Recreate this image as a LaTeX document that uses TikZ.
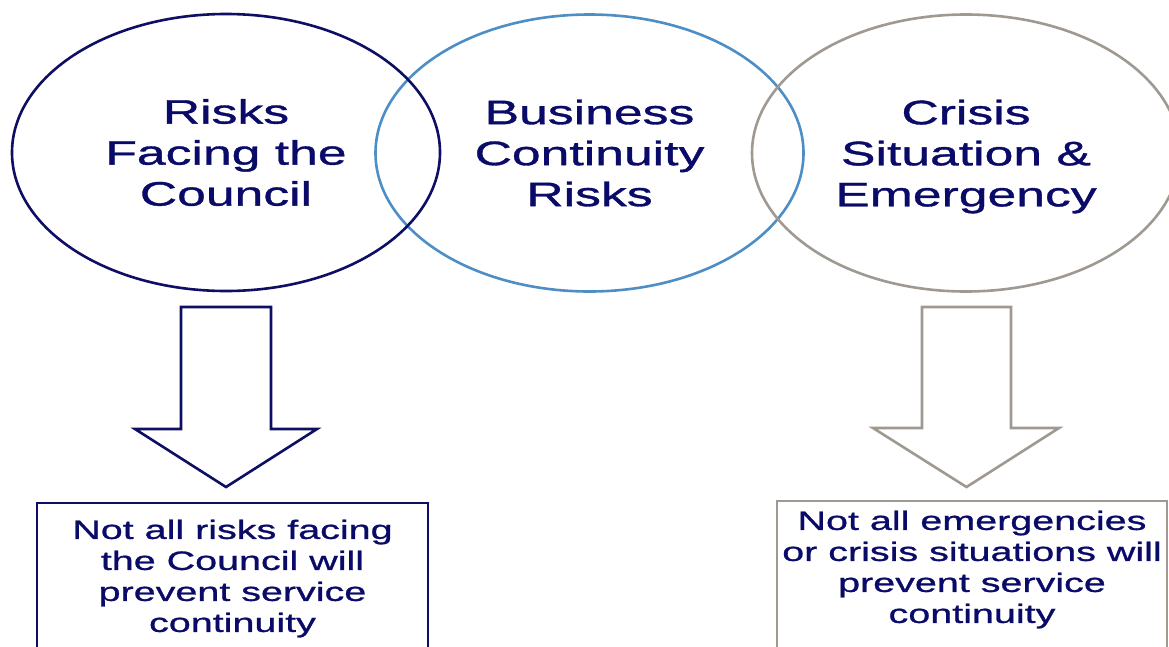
\documentclass[tikz,border=0pt]{standalone}
\usepackage{fontspec}
\setmainfont{Liberation Sans}
\newfontfamily\ellfont[FakeStretch=1.52,FakeBold=1]{Liberation Sans}
\newfontfamily\boxfont[FakeStretch=1.49,FakeBold=1]{Liberation Sans}
\usetikzlibrary{shapes.geometric}
\definecolor{navytxt}{RGB}{10,10,105}
\definecolor{navyline}{RGB}{14,14,100}
\definecolor{steel}{RGB}{78,142,198}
\definecolor{warmgray}{RGB}{160,153,146}
\tikzset{
  circ/.style={ellipse, draw, line width=2.6pt, minimum width=428pt, minimum height=277pt, inner sep=0pt,
    text=navytxt, align=center, font=\ellfont\fontsize{34}{41}\selectfont},
  blockarrow/.style={line width=2.6pt, fill=white, line join=miter},
  boxframe/.style={draw, line width=2.6pt, fill=white},
  boxtext/.style={text=navytxt, align=center, inner sep=0pt, anchor=north, font=\boxfont\fontsize{26.5}{31}\selectfont}
}
\begin{document}
\begin{tikzpicture}[x=1pt,y=-1pt]
\clip (0,0) rectangle (1169,646);
\fill[white] (0,0) rectangle (1169,646);
% ellipses
\node[circ, draw=steel] (bc) at (589.5,153) {Business\\Continuity\\Risks};
\node[circ, draw=navyline] (rf) at (226,152.5) {Risks\\Facing the\\Council};
\node[circ, draw=warmgray] (cs) at (966,153) {Crisis\\Situation \&\\\smash{Emergency}};
% arrows
\draw[blockarrow, draw=navyline] (181,307) -- (271,307) -- (271,429) -- (317,429) -- (226,487) -- (135,429) -- (181,429) -- cycle;
\draw[blockarrow, draw=warmgray] (922,307) -- (1011,307) -- (1011,428) -- (1059,428) -- (966.5,487) -- (873,428) -- (922,428) -- cycle;
% boxes
\path[boxframe, draw=navyline] (37,503) rectangle (428,700);
\node[boxtext] (lt) at (232.5,519.5) {Not all risks facing\\the Council will\\prevent service\\continuity};
\path[boxframe, draw=warmgray] (777,501) rectangle (1167,700);
\node[boxtext] (rt) at (972,510.5) {Not all emergencies\\or crisis situations will\\prevent service\\continuity};
\end{tikzpicture}
\end{document}
